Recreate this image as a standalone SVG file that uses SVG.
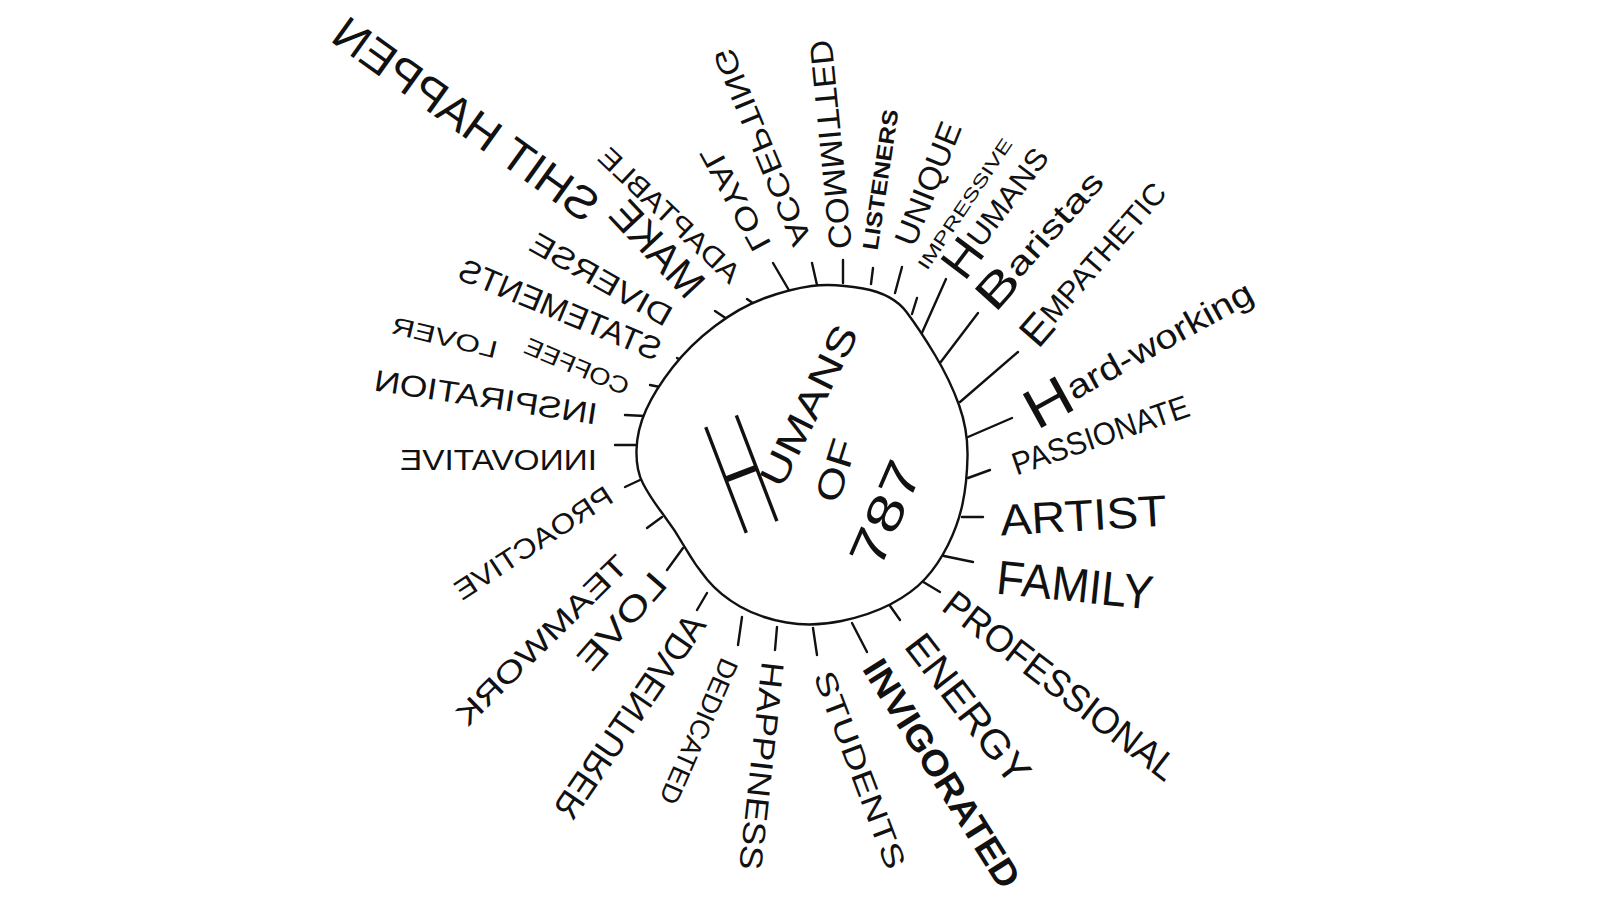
<svg xmlns="http://www.w3.org/2000/svg" width="1600" height="900" viewBox="0 0 1600 900">
<style>
.w{font-family:"Liberation Sans",Arial,sans-serif;fill:#111;dominant-baseline:central}
.b{font-weight:bold}
.big{font-family:Lato,"Liberation Sans",sans-serif;font-weight:300}
.t{stroke:#111;stroke-width:2.4;stroke-linecap:round;fill:none}
.blob{stroke:#111;stroke-width:2.4;fill:#fff}
</style>
<rect width="1600" height="900" fill="#fff"/>
<g id="connectors" class="t">
<line x1="773" y1="263" x2="790" y2="292"/>
<line x1="812" y1="263" x2="817" y2="285"/>
<line x1="843" y1="260" x2="843" y2="283"/>
<line x1="873" y1="268" x2="871" y2="284"/>
<line x1="902" y1="267" x2="895" y2="293"/>
<line x1="917" y1="298" x2="912" y2="314"/>
<line x1="946" y1="279" x2="921" y2="335"/>
<line x1="978" y1="313" x2="940" y2="363"/>
<line x1="1018" y1="352" x2="960" y2="402"/>
<line x1="1012" y1="418" x2="968" y2="437"/>
<line x1="990" y1="470" x2="968" y2="478"/>
<line x1="983" y1="517" x2="962" y2="517"/>
<line x1="973" y1="562" x2="944" y2="556"/>
<line x1="940" y1="592" x2="920" y2="580"/>
<line x1="900" y1="620" x2="888" y2="603"/>
<line x1="867" y1="652" x2="852" y2="623"/>
<line x1="817" y1="655" x2="813" y2="628"/>
<line x1="775" y1="650" x2="777" y2="627"/>
<line x1="738" y1="645" x2="742" y2="617"/>
<line x1="697" y1="610" x2="707" y2="593"/>
<line x1="667" y1="570" x2="683" y2="548"/>
<line x1="647" y1="528" x2="662" y2="517"/>
<line x1="625" y1="487" x2="640" y2="480"/>
<line x1="615" y1="445" x2="637" y2="445"/>
<line x1="625" y1="415" x2="645" y2="416"/>
<line x1="650" y1="385" x2="665" y2="388"/>
<line x1="677" y1="358" x2="688" y2="364"/>
<line x1="715" y1="311" x2="727" y2="319"/>
<line x1="747" y1="299" x2="757" y2="306"/>
</g>
<g id="center">
<path class="blob" d="M 811.5 286 Q 833 283 863 288.5 Q 893 294 906.5 312 Q 920 330 935 355 Q 950 380 959 405 Q 968 430 967.5 456.5 Q 967 483 962.5 504 Q 958 525 948 545 Q 938 565 925 579 Q 912 593 891 604 Q 870 615 841.5 621 Q 813 627 786.5 622.5 Q 760 618 740 606.5 Q 720 595 707.5 580 Q 695 565 685 547.5 Q 675 530 662.5 513.5 Q 650 497 643 483.5 Q 636 470 636.5 450 Q 637 430 646 410 Q 655 390 672.5 367.5 Q 690 345 715 326 Q 740 307 765 298 Q 790 289 811.5 286 Z"/>
<text class="w big" transform="translate(716,478) rotate(-21)" font-size="160" textLength="50" lengthAdjust="spacingAndGlyphs">H</text>
<text class="w" transform="translate(770,484) rotate(-63.6)" font-size="38" textLength="175" lengthAdjust="spacingAndGlyphs">UMANS</text>
<text class="w" transform="translate(826,501) rotate(-72.5)" font-size="36" textLength="64" lengthAdjust="spacingAndGlyphs">OF</text>
<text class="w" transform="translate(864,564) rotate(-66.7)" font-size="50" textLength="110" lengthAdjust="spacingAndGlyphs">787</text>
</g>
<g id="n-shit-happen"><text class="w" transform="translate(594,211) rotate(35.7) scale(-1,1)" font-size="46" textLength="315" lengthAdjust="spacingAndGlyphs">SHIT HAPPEN</text></g>
<g id="n-make"><text class="w" transform="translate(697,291) rotate(46.9) scale(-1,1)" font-size="42" textLength="116" lengthAdjust="spacingAndGlyphs">MAKE</text></g>
<g id="n-adaptable"><text class="w" transform="translate(736,278) rotate(43.3) scale(-1,1)" font-size="28" textLength="183" lengthAdjust="spacingAndGlyphs">ADAPTABLE</text></g>
<g id="n-loyal"><text class="w" transform="translate(763,249) rotate(61.5) scale(-1,1)" font-size="30" textLength="115" lengthAdjust="spacingAndGlyphs">LOYAL</text></g>
<g id="n-accepting"><text class="w" transform="translate(803,244) rotate(67.5) scale(-1,1)" font-size="30" textLength="211" lengthAdjust="spacingAndGlyphs">ACCEPTING</text></g>
<g id="n-committed"><text class="w" transform="translate(841,249) rotate(84.4) scale(-1,1)" font-size="32" textLength="210" lengthAdjust="spacingAndGlyphs">COMMITTED</text></g>
<g id="n-listeners"><text class="w b" transform="translate(870,250) rotate(-81.5)" font-size="22" textLength="142" lengthAdjust="spacingAndGlyphs">LISTENERS</text></g>
<g id="n-unique"><text class="w" transform="translate(904,244) rotate(-68.3)" font-size="32" textLength="130" lengthAdjust="spacingAndGlyphs">UNIQUE</text></g>
<g id="n-impressive"><text class="w" transform="translate(922,268) rotate(-56)" font-size="18" textLength="154" lengthAdjust="spacingAndGlyphs">IMPRESSIVE</text></g>
<g id="n-humans"><text class="w" transform="translate(951,272) rotate(-53)" font-size="30" textLength="151" lengthAdjust="spacingAndGlyphs"><tspan font-size="48">H</tspan>UMANS</text></g>
<g id="n-baristas"><text class="w" transform="translate(983,303) rotate(-48)" font-size="32" textLength="171" lengthAdjust="spacingAndGlyphs"><tspan font-size="46">B</tspan>aristas</text></g>
<g id="n-empathetic"><text class="w" transform="translate(1027,340) rotate(-49)" font-size="30" textLength="203" lengthAdjust="spacingAndGlyphs"><tspan font-size="42">E</tspan>MPATHETIC</text></g>
<g id="n-hard-working"><text class="w" transform="translate(1027,413) rotate(-28.9)" font-size="34" textLength="255" lengthAdjust="spacingAndGlyphs"><tspan font-size="56">H</tspan>ard-working</text></g>
<g id="n-passionate"><text class="w" transform="translate(1013,465) rotate(-18.9)" font-size="32" textLength="185" lengthAdjust="spacingAndGlyphs">PASSIONATE</text></g>
<g id="n-artist"><text class="w" transform="translate(1000,520) rotate(-3.4)" font-size="44" textLength="167" lengthAdjust="spacingAndGlyphs">ARTIST</text></g>
<g id="n-family"><text class="w" transform="translate(997,577) rotate(5.9)" font-size="48" textLength="157" lengthAdjust="spacingAndGlyphs">FAMILY</text></g>
<g id="n-professional"><text class="w" transform="translate(948,599) rotate(37.6)" font-size="38" textLength="284" lengthAdjust="spacingAndGlyphs">PROFESSIONAL</text></g>
<g id="n-energy"><text class="w" transform="translate(914,638) rotate(52.4)" font-size="40" textLength="178" lengthAdjust="spacingAndGlyphs">ENERGY</text></g>
<g id="n-invigorated"><text class="w b" transform="translate(872,662) rotate(57.9)" font-size="36" textLength="263" lengthAdjust="spacingAndGlyphs">INVIGORATED</text></g>
<g id="n-students"><text class="w" transform="translate(823,672) rotate(69.3)" font-size="30" textLength="209" lengthAdjust="spacingAndGlyphs">STUDENTS</text></g>
<g id="n-happiness"><text class="w" transform="translate(773,662) rotate(96.3)" font-size="32" textLength="209" lengthAdjust="spacingAndGlyphs">HAPPINESS</text></g>
<g id="n-dedicated"><text class="w" transform="translate(730,660) rotate(113.8)" font-size="27" textLength="156" lengthAdjust="spacingAndGlyphs">DEDICATED</text></g>
<g id="n-adventurer"><text class="w" transform="translate(697,618) rotate(-55.6) scale(-1,1)" font-size="36" textLength="239" lengthAdjust="spacingAndGlyphs">ADVENTURER</text></g>
<g id="n-love"><text class="w" transform="translate(660,577) rotate(-48.8) scale(-1,1)" font-size="34" textLength="117" lengthAdjust="spacingAndGlyphs">LOVE</text></g>
<g id="n-teamwork"><text class="w" transform="translate(623,560) rotate(-44.5) scale(-1,1)" font-size="30" textLength="228" lengthAdjust="spacingAndGlyphs">TEAMWORK</text></g>
<g id="n-proactive"><text class="w" transform="translate(610,493) rotate(-33.2) scale(-1,1)" font-size="28" textLength="183" lengthAdjust="spacingAndGlyphs">PROACTIVE</text></g>
<g id="n-innovative"><text class="w" transform="translate(597,459) scale(-1,1)" font-size="30" textLength="197" lengthAdjust="spacingAndGlyphs">INNOVATIVE</text></g>
<g id="n-inspiration"><text class="w" transform="translate(597,414) rotate(8.7) scale(-1,1)" font-size="30" textLength="225" lengthAdjust="spacingAndGlyphs">INSPIRATION</text></g>
<g id="n-coffee"><text class="w" transform="translate(628,388) rotate(23) scale(-1,1)" font-size="24" textLength="111" lengthAdjust="spacingAndGlyphs">COFFEE</text></g>
<g id="n-lover"><text class="w" transform="translate(497,350) rotate(13.7) scale(-1,1)" font-size="24" textLength="108" lengthAdjust="spacingAndGlyphs">LOVER</text></g>
<g id="n-statements"><text class="w" transform="translate(660,351) rotate(22.5) scale(-1,1)" font-size="32" textLength="216" lengthAdjust="spacingAndGlyphs">STATEMENTS</text></g>
<g id="n-diverse"><text class="w" transform="translate(670,318) rotate(29.5) scale(-1,1)" font-size="30" textLength="158" lengthAdjust="spacingAndGlyphs">DIVERSE</text></g>
</svg>
